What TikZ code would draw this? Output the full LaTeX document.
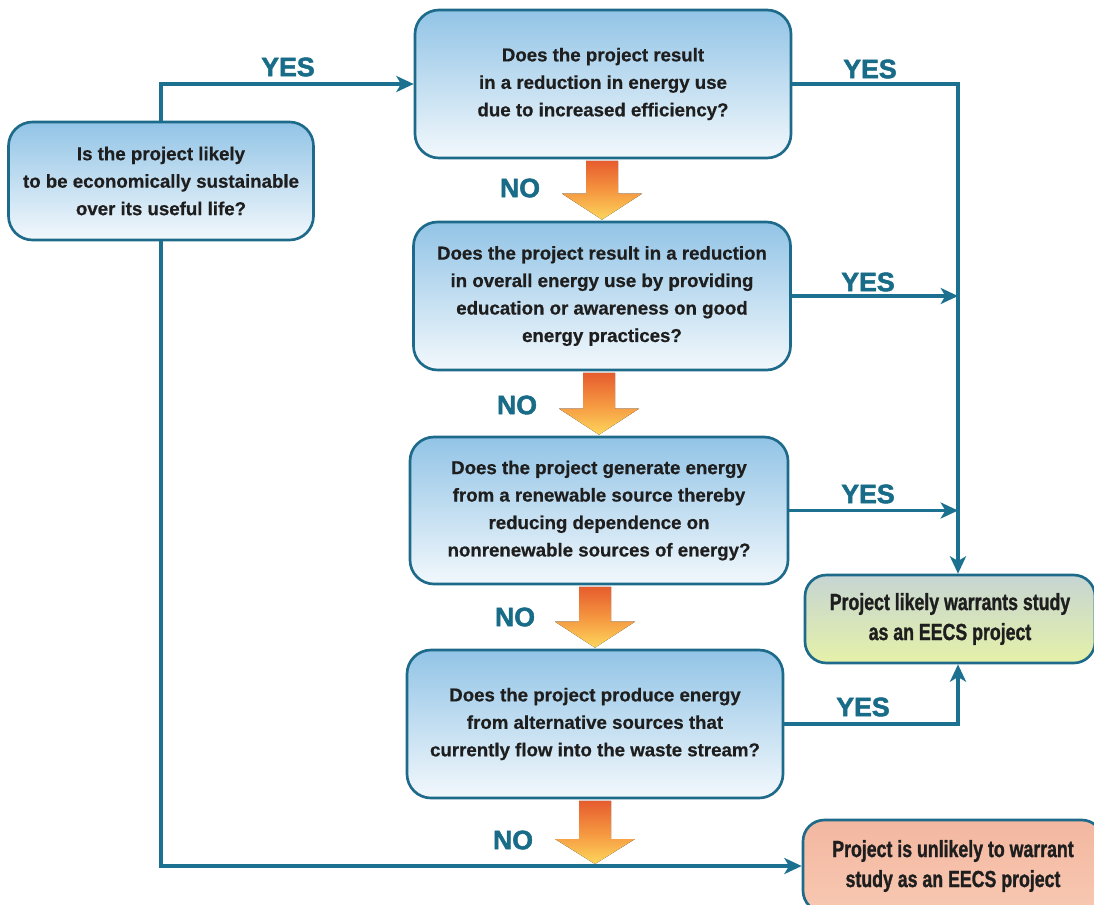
\documentclass[tikz,border=0pt]{standalone}
\usepackage{fontspec}
\setmainfont{Liberation Sans}
\newfontfamily\boxfont[FakeBold=0.6]{Liberation Sans Bold}
\newfontfamily\condfont[FakeStretch=0.76,FakeBold=1.2]{Liberation Sans Bold}
\newfontfamily\heavyfont[FakeBold=2]{Liberation Sans Bold}
\usetikzlibrary{arrows.meta,calc}
\definecolor{linecol}{RGB}{28,113,144}
\definecolor{boxedge}{RGB}{30,106,138}
\definecolor{labelcol}{RGB}{24,108,136}
\definecolor{txtcol}{RGB}{30,30,30}
\definecolor{bluetop}{RGB}{146,196,230}
\definecolor{bluebot}{RGB}{242,248,252}
\definecolor{greentop}{RGB}{198,213,211}
\definecolor{greenbot}{RGB}{229,241,168}
\definecolor{redtop}{RGB}{243,183,160}
\definecolor{redbot}{RGB}{248,200,178}
\definecolor{otop}{RGB}{230,92,46}
\definecolor{omid}{RGB}{245,150,64}
\definecolor{obot}{RGB}{253,214,92}
\begin{document}
\begin{tikzpicture}[x=0.75pt,y=-0.75pt,
  qbox/.style={draw=boxedge, line width=2pt, rounded corners=18pt,
    top color=bluetop, bottom color=bluebot, align=center, inner sep=0pt,
    text=txtcol, font=\boxfont\fontsize{14}{20.6}\selectfont},
  endbox/.style={draw=boxedge, line width=2pt, rounded corners=16pt,
    align=center, inner sep=0pt, text=txtcol,
    font=\condfont\fontsize{17.5}{22.5}\selectfont},
  conn/.style={draw=linecol, line width=2.5pt},
  tip/.style={-{Stealth[length=13pt,width=12pt,inset=3.5pt]}},
  yn/.style={text=labelcol, font=\heavyfont\fontsize{20}{24}\selectfont, inner sep=0pt},
  oarrow/.style={top color=otop, bottom color=obot, middle color=omid, draw=none}
]
\useasboundingbox (0,0) rectangle (1094,904);

% boxes
\node[qbox, minimum width=228.75pt, minimum height=88.5pt] (L) at (161,181)
  {Is the project likely\\to be economically sustainable\\over its useful life?};
\node[qbox, minimum width=282pt, minimum height=111pt] (Q1) at (603,84)
  {Does the project result\\in a reduction in energy use\\due to increased efficiency?};
\node[qbox, minimum width=282.75pt, minimum height=111pt] (Q2) at (602,296)
  {Does the project result in a reduction\\in overall energy use by providing\\education or awareness on good\\energy practices?};
\node[qbox, minimum width=283.5pt, minimum height=110.25pt] (Q3) at (599,510.5)
  {Does the project generate energy\\from a renewable source thereby\\reducing dependence on\\nonrenewable sources of energy?};
\node[qbox, minimum width=282pt, minimum height=111pt] (Q4) at (595,724)
  {Does the project produce energy\\from alternative sources that\\currently flow into the waste stream?};
\node[endbox, top color=greentop, bottom color=greenbot, minimum width=217.5pt, minimum height=66pt] (G) at (950,619)
  {Project likely warrants study\\as an EECS project};
\node[endbox, top color=redtop, bottom color=redbot, minimum width=225pt, minimum height=69pt] (R) at (953,866)
  {Project is unlikely to warrant\\study as an EECS project};

\coordinate (rail) at (958,0);
\coordinate (bot) at (Q4.south |- R.west);

% connectors
\draw[conn, tip] (L.north) |- (Q1.west);
\draw[conn, tip] (L.south) |- (R.west);
\draw[conn, tip] (Q1.east) -| (rail |- G.north);
\draw[conn, tip] (Q2.east) -- (rail |- Q2.east);
\draw[conn, tip] (Q3.east) -- (rail |- Q3.east);
\draw[conn, tip] (Q4.east) -| (rail |- G.south);

% orange NO arrows
\foreach \a/\b in {Q1/Q2, Q2/Q3, Q3/Q4} {
  \fill[oarrow] ($(\b.north |- \a.south)+(-16,1.5)$) -- ($(\b.north)+(-16,-27)$)
    -- ($(\b.north)+(-40,-27)$) -- ($(\b.north)+(0,-1)$) -- ($(\b.north)+(40,-27)$)
    -- ($(\b.north)+(16,-27)$) -- ($(\b.north |- \a.south)+(16,1.5)$) -- cycle;
}
\fill[oarrow] ($(Q4.south)+(-16,1.5)$) -- ($(bot)+(-16,-27)$)
    -- ($(bot)+(-40,-27)$) -- ($(bot)+(0,-2)$) -- ($(bot)+(40,-27)$)
    -- ($(bot)+(16,-27)$) -- ($(Q4.south)+(16,1.5)$) -- cycle;

% labels
\node[yn] (y1) at (288,67) {YES};
\node[yn] (y2) at (870,69) {YES};
\node[yn] (n1) at (520,188) {NO};
\node[yn] (y3) at (868,282) {YES};
\node[yn] (n2) at (517,405) {NO};
\node[yn] (y4) at (868,494) {YES};
\node[yn] (n3) at (515,617) {NO};
\node[yn] (y5) at (863,707) {YES};
\node[yn] (n4) at (513,840) {NO};
\end{tikzpicture}
\end{document}
